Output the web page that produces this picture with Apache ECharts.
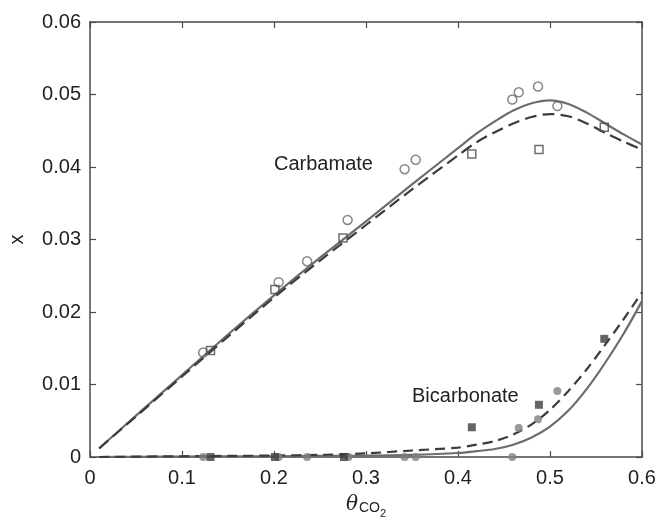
<!DOCTYPE html>
<html>
<head>
<meta charset="utf-8">
<script src="https://cdn.jsdelivr.net/npm/echarts@6/dist/echarts.min.js"></script>
<style>
  html, body { margin: 0; padding: 0; background: #fff; }
  #chart { width: 658px; height: 520px; }
</style>
</head>
<body>
<div id="chart"></div>
<script>
// model curves, sampled along theta
var thetaCurve = [0.01, 0.05, 0.1, 0.15, 0.2, 0.25, 0.3, 0.35, 0.4, 0.42, 0.44, 0.46, 0.48, 0.5, 0.52, 0.54, 0.56, 0.58, 0.6];
var carbSolid  = [0.0012, 0.0057, 0.0113, 0.0169, 0.0223, 0.0275, 0.0325, 0.0376, 0.0426, 0.0446, 0.0463, 0.0478, 0.0488, 0.0492, 0.0487, 0.0475, 0.0460, 0.0445, 0.0431];
var carbDash   = [0.0012, 0.0056, 0.0111, 0.0166, 0.0220, 0.0271, 0.0320, 0.0369, 0.0416, 0.0434, 0.0448, 0.0460, 0.0469, 0.0473, 0.0470, 0.0460, 0.0447, 0.0435, 0.0424];
var bicSolid   = [0, 0.00003, 0.00005, 0.0001, 0.0001, 0.00015, 0.0002, 0.0003, 0.00055, 0.0008, 0.0011, 0.0017, 0.0027, 0.0042, 0.0064, 0.0094, 0.0130, 0.0170, 0.0215];
var bicDash    = [0, 0.00005, 0.0001, 0.00015, 0.0002, 0.0003, 0.0005, 0.0009, 0.0013, 0.0017, 0.0022, 0.0031, 0.0045, 0.0065, 0.0091, 0.0121, 0.0155, 0.0190, 0.0227];

// measured points
var carbCircX = [0.123, 0.205, 0.236, 0.280, 0.342, 0.354, 0.459, 0.466, 0.487, 0.508];
var carbCircY = [0.0144, 0.0241, 0.0270, 0.0327, 0.0397, 0.0410, 0.0493, 0.0503, 0.0511, 0.0484];
var carbSqX   = [0.131, 0.201, 0.275, 0.415, 0.488, 0.559];
var carbSqY   = [0.0147, 0.0231, 0.0302, 0.0418, 0.0424, 0.0455];
var bicSqX    = [0.131, 0.201, 0.276, 0.415, 0.488, 0.559];
var bicSqY    = [0, 0, 0, 0.0041, 0.0072, 0.0163];
var bicCircX  = [0.123, 0.205, 0.236, 0.281, 0.342, 0.354, 0.459, 0.466, 0.487, 0.508];
var bicCircY  = [0, 0, 0, 0, 0, 0, 0, 0.0040, 0.0052, 0.0091];

var xTicks = [0, 0.1, 0.2, 0.3, 0.4, 0.5, 0.6];
var yTicks = [0, 0.01, 0.02, 0.03, 0.04, 0.05, 0.06];

function pairs(xs, ys) {
  return xs.map(function (x, i) { return [x, ys[i]]; });
}
function fmt(v) {
  return v === 0 ? '0' : String(+v.toFixed(2));
}

var FONT = 'Liberation Sans';
var frameColor = '#4a4a4a';

var baseAxis = {
  axisLine: { show: true, onZero: false, lineStyle: { color: frameColor, width: 1.5 } },
  axisTick: { show: true, inside: true, length: 6, lineStyle: { color: frameColor, width: 1.2 } },
  splitLine: { show: false }
};

var myChart = echarts.init(document.getElementById('chart'));

var option = {
  backgroundColor: '#fff',
  animation: false,
  grid: { left: 90, right: 16, top: 22, bottom: 63, containLabel: false, outerBoundsMode: 'none' },
  xAxis: [
    Object.assign({}, baseAxis, {
      type: 'value', min: xTicks[0], max: xTicks[xTicks.length - 1], interval: 0.1,
      position: 'bottom',
      axisLabel: { color: '#222', fontFamily: FONT, fontSize: 20, margin: 11, formatter: fmt },
      name: '{t|θ}{s|CO}{ss|2}',
      nameLocation: 'middle',
      nameGap: 33,
      nameTextStyle: {
        rich: {
          t: { fontFamily: 'DejaVu Serif', fontStyle: 'italic', fontSize: 20, color: '#222', padding: [0, 1, 0, 0] },
          s: { fontFamily: FONT, fontSize: 14, color: '#222', padding: [8, 0, 0, 0] },
          ss: { fontFamily: FONT, fontSize: 11, color: '#222', padding: [18, 0, 0, 0] }
        }
      }
    }),
    Object.assign({}, baseAxis, {
      type: 'value', min: xTicks[0], max: xTicks[xTicks.length - 1], interval: 0.1,
      position: 'top', axisLabel: { show: false }
    })
  ],
  yAxis: [
    Object.assign({}, baseAxis, {
      type: 'value', min: yTicks[0], max: yTicks[yTicks.length - 1], interval: 0.01,
      position: 'left',
      axisLabel: { color: '#222', fontFamily: FONT, fontSize: 20, margin: 9, formatter: fmt },
      name: 'x',
      nameLocation: 'middle',
      nameGap: 63,
      nameRotate: 90,
      nameTextStyle: { fontFamily: FONT, fontSize: 20, color: '#222' }
    }),
    Object.assign({}, baseAxis, {
      type: 'value', min: yTicks[0], max: yTicks[yTicks.length - 1], interval: 0.01,
      position: 'right', axisLabel: { show: false }
    })
  ],
  graphic: [
    { type: 'text', left: 274, top: 154, style: { text: 'Carbamate', font: '20px "Liberation Sans"', fill: '#222' } },
    { type: 'text', left: 412, top: 386, style: { text: 'Bicarbonate', font: '20px "Liberation Sans"', fill: '#222' } }
  ],
  series: [
    {
      name: 'carbamate model', type: 'line', data: pairs(thetaCurve, carbSolid), smooth: 0.3,
      showSymbol: false, lineStyle: { color: '#6c6c6c', width: 2.2 }, z: 2
    },
    {
      name: 'carbamate model 2', type: 'line', data: pairs(thetaCurve, carbDash), smooth: 0.3,
      showSymbol: false, lineStyle: { color: '#3c3c3c', width: 2.2, type: [12, 6] }, z: 2
    },
    {
      name: 'bicarbonate model', type: 'line', data: pairs(thetaCurve, bicSolid), smooth: 0.3,
      showSymbol: false, lineStyle: { color: '#6c6c6c', width: 2.2 }, z: 2
    },
    {
      name: 'bicarbonate model 2', type: 'line', data: pairs(thetaCurve, bicDash), smooth: 0.3,
      showSymbol: false, lineStyle: { color: '#3c3c3c', width: 2.2, type: [10, 6] }, z: 2
    },
    {
      name: 'carbamate circles', type: 'scatter', data: pairs(carbCircX, carbCircY),
      symbol: 'circle', symbolSize: 9,
      itemStyle: { color: 'rgba(255,255,255,0)', borderColor: '#6a6a6a', borderWidth: 1.5 }, z: 3
    },
    {
      name: 'carbamate squares', type: 'scatter', data: pairs(carbSqX, carbSqY),
      symbol: 'rect', symbolSize: 8,
      itemStyle: { color: 'rgba(255,255,255,0)', borderColor: '#4a4a4a', borderWidth: 1.5 }, z: 3
    },
    {
      name: 'bicarbonate circles', type: 'scatter', data: pairs(bicCircX, bicCircY),
      symbol: 'circle', symbolSize: 8,
      itemStyle: { color: '#7f7f7f' }, z: 3
    },
    {
      name: 'bicarbonate squares', type: 'scatter', data: pairs(bicSqX, bicSqY),
      symbol: 'rect', symbolSize: 8,
      itemStyle: { color: '#3e3e3e' }, z: 4
    }
  ]
};

myChart.setOption(option);
</script>
</body>
</html>
